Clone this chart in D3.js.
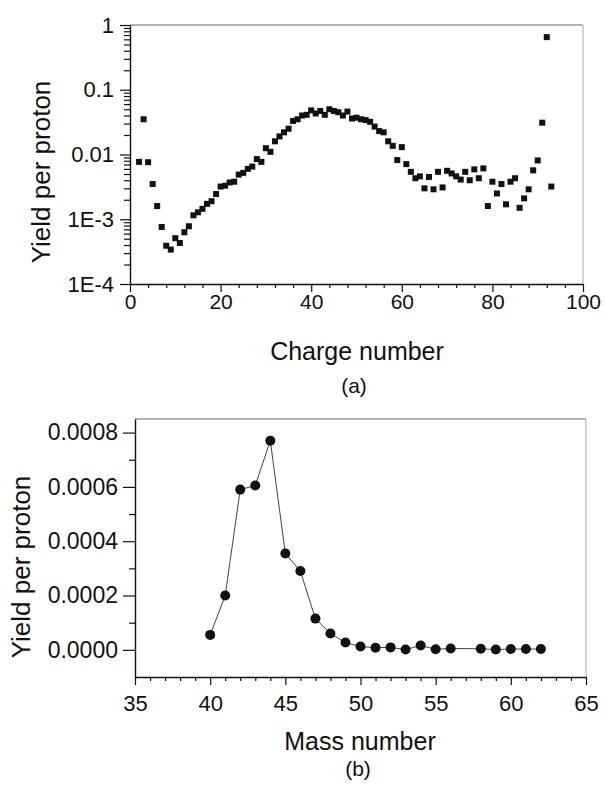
<!DOCTYPE html>
<html>
<head>
<meta charset="utf-8">
<script src="https://cdn.jsdelivr.net/npm/d3@7"></script>
<style>
  body { margin: 0; background: #fff; }
  text { font-family: "Liberation Sans", Arial, sans-serif; fill: #111; }
</style>
</head>
<body>
<script>
// (a) yield per proton vs charge number (log scale)
var chargeNumbers = [2, 3, 4, 5, 6, 7, 8, 9, 10, 11, 12, 13, 14, 15, 16, 17, 18, 19, 20,
  21, 22, 23, 24, 25, 26, 27, 28, 29, 30, 31, 32, 33, 34, 35, 36, 37, 38, 39, 40,
  41, 42, 43, 44, 45, 46, 47, 48, 49, 50, 51, 52, 53, 54, 55, 56, 57, 58, 59, 60,
  61, 62, 63, 64, 65, 66, 67, 68, 69, 70, 71, 72, 73, 74, 75, 76, 77, 78, 79, 80,
  81, 82, 83, 84, 85, 86, 87, 88, 89, 90, 91, 92, 93];
var chargeYields = [0.0077, 0.035, 0.0076, 0.0035, 0.0016, 0.00076, 0.00039, 0.00034, 0.00051,
  0.00043, 0.00063, 0.00078, 0.00115, 0.00128, 0.00145, 0.00173, 0.0019, 0.00245, 0.0032,
  0.0033, 0.0037, 0.0038, 0.0049, 0.0052, 0.0060, 0.0065, 0.0085, 0.0077, 0.0125,
  0.011, 0.016, 0.019, 0.022, 0.025, 0.033, 0.035, 0.040, 0.041, 0.048,
  0.043, 0.047, 0.041, 0.050, 0.047, 0.045, 0.040, 0.046, 0.036, 0.037,
  0.035, 0.034, 0.032, 0.027, 0.023, 0.022, 0.016, 0.0136, 0.0082, 0.013,
  0.0071, 0.0054, 0.0043, 0.0046, 0.0030, 0.0045, 0.0029, 0.0054, 0.0031, 0.0056,
  0.0051, 0.0046, 0.0041, 0.0054, 0.0040, 0.0059, 0.0043, 0.0061, 0.0016, 0.0038,
  0.0025, 0.0035, 0.0017, 0.0038, 0.0043, 0.0015, 0.0021, 0.0029, 0.0057, 0.0081,
  0.031, 0.65, 0.0032];
var chargeTicks = [0, 20, 40, 60, 80, 100];
var logTicks = [1e-4, 1e-3, 0.01, 0.1, 1];
var logTickLabels = ["1E-4", "1E-3", "0.01", "0.1", "1"];

// (b) yield per proton vs mass number
var massNumbers = [40, 41, 42, 43, 44, 45, 46, 47, 48, 49, 50, 51, 52, 53, 54, 55, 56, 58, 59, 60, 61, 62];
var massYields = [0.000055, 0.0002, 0.00059, 0.000605, 0.00077, 0.000355, 0.00029, 0.000115, 0.00006,
  0.000027, 0.000012, 0.000008, 0.000009, 0.000001, 0.000016, 0.000002, 0.000005,
  0.000004, 0.000001, 0.000003, 0.000003, 0.000003];
var massTicks = [35, 40, 45, 50, 55, 60, 65];
var linTicks = [0, 0.0002, 0.0004, 0.0006, 0.0008];

var W = 605, H = 788;
var svg = d3.select("body").append("svg")
            .attr("width", W)
            .attr("height", H);

// helper: style an axis group
function styleAxis(g, fontSize) {
  g.selectAll(".domain").attr("stroke", "#111").attr("stroke-width", 1.4);
  g.selectAll(".tick line").attr("stroke", "#111").attr("stroke-width", 1.2);
  g.selectAll(".tick text")
   .attr("font-family", "Liberation Sans, Arial, sans-serif")
   .attr("font-size", fontSize)
   .attr("fill", "#111");
}

// ---------- panel (a) ----------
var xa = d3.scaleLinear().domain([0, 100]).range([130, 583]);
var ya = d3.scaleLog().domain([1e-4, 1]).range([284, 25]);

// frame (top and right)
svg.append("line").attr("x1", xa(0)).attr("x2", xa(100)).attr("y1", ya(1)).attr("y2", ya(1))
   .attr("stroke", "#999").attr("stroke-width", 1.3);
svg.append("line").attr("x1", xa(100)).attr("x2", xa(100)).attr("y1", ya(1)).attr("y2", ya(1e-4))
   .attr("stroke", "#bbb").attr("stroke-width", 1.3);

var minorLog = [];
logTicks.slice(0, -1).forEach(function(d) {
  for (var k = 2; k <= 9; k++) minorLog.push(d * k);
});
var minorCharge = d3.range(0, 101, 4).filter(function(d) { return d % 20 != 0; });

svg.append("g")
   .attr("transform", "translate(" + xa(0) + ",0)")
   .call(d3.axisLeft(ya).tickValues(minorLog).tickFormat("").tickSize(6).tickSizeOuter(0))
   .call(function(g) { styleAxis(g, 22); g.select(".domain").remove(); });
svg.append("g")
   .attr("transform", "translate(" + xa(0) + ",0)")
   .call(d3.axisLeft(ya).tickValues(logTicks)
           .tickFormat(function(d, i) { return logTickLabels[i]; })
           .tickSize(10).tickPadding(6).tickSizeOuter(0))
   .call(function(g) { styleAxis(g, 22); });

svg.append("g")
   .attr("transform", "translate(0," + ya(1e-4) + ")")
   .call(d3.axisBottom(xa).tickValues(minorCharge).tickFormat("").tickSize(4).tickSizeOuter(0))
   .call(function(g) { styleAxis(g, 21); g.select(".domain").remove(); });
svg.append("g")
   .attr("transform", "translate(0," + ya(1e-4) + ")")
   .call(d3.axisBottom(xa).tickValues(chargeTicks).tickSize(8).tickPadding(2).tickSizeOuter(0))
   .call(function(g) { styleAxis(g, 21); });

// squares
var sq = 6;
svg.append("g")
   .selectAll("rect")
   .data(chargeNumbers)
   .enter()
   .append("rect")
   .attr("x", function(d) { return xa(d) - sq / 2; })
   .attr("y", function(d, i) { return ya(chargeYields[i]) - sq / 2; })
   .attr("width", sq)
   .attr("height", sq)
   .attr("fill", "#111");

svg.append("text")
   .attr("transform", "translate(50,172) rotate(-90)")
   .attr("text-anchor", "middle")
   .attr("font-size", 26)
   .text("Yield per proton");
svg.append("text")
   .attr("x", 357).attr("y", 360)
   .attr("text-anchor", "middle")
   .attr("font-size", 25)
   .text("Charge number");
svg.append("text")
   .attr("x", 354).attr("y", 393)
   .attr("text-anchor", "middle")
   .attr("font-size", 21)
   .text("(a)");

// ---------- panel (b) ----------
var xb = d3.scaleLinear().domain([35, 65]).range([135, 586]);
var yb = d3.scaleLinear().domain([-0.0001, 0.00085]).range([677, 419]);

svg.append("line").attr("x1", xb(35)).attr("x2", xb(65)).attr("y1", yb(0.00085)).attr("y2", yb(0.00085))
   .attr("stroke", "#999").attr("stroke-width", 1.3);
svg.append("line").attr("x1", xb(65)).attr("x2", xb(65)).attr("y1", yb(0.00085)).attr("y2", yb(-0.0001))
   .attr("stroke", "#bbb").attr("stroke-width", 1.3);

var minorLin = [0.0001, 0.0003, 0.0005, 0.0007];
var minorMass = d3.range(36, 65).filter(function(d) { return d % 5 != 0; });

svg.append("g")
   .attr("transform", "translate(" + xb(35) + ",0)")
   .call(d3.axisLeft(yb).tickValues(minorLin).tickFormat("").tickSize(6).tickSizeOuter(0))
   .call(function(g) { styleAxis(g, 23); g.select(".domain").remove(); });
svg.append("g")
   .attr("transform", "translate(" + xb(35) + ",0)")
   .call(d3.axisLeft(yb).tickValues(linTicks).tickFormat(d3.format(".4f"))
           .tickSize(12).tickPadding(5).tickSizeOuter(0))
   .call(function(g) { styleAxis(g, 23); });

svg.append("g")
   .attr("transform", "translate(0," + yb(-0.0001) + ")")
   .call(d3.axisBottom(xb).tickValues(minorMass).tickFormat("").tickSize(4).tickSizeOuter(0))
   .call(function(g) { styleAxis(g, 22); g.select(".domain").remove(); });
svg.append("g")
   .attr("transform", "translate(0," + yb(-0.0001) + ")")
   .call(d3.axisBottom(xb).tickValues(massTicks).tickSize(8).tickPadding(10).tickSizeOuter(0))
   .call(function(g) { styleAxis(g, 22); });

// connecting line
var massLine = d3.line()
    .x(function(d) { return xb(d); })
    .y(function(d, i) { return yb(massYields[i]); });
svg.append("path")
   .datum(massNumbers)
   .attr("d", massLine)
   .attr("fill", "none")
   .attr("stroke", "#444")
   .attr("stroke-width", 1);

svg.append("g")
   .selectAll("circle")
   .data(massNumbers)
   .enter()
   .append("circle")
   .attr("cx", function(d) { return xb(d); })
   .attr("cy", function(d, i) { return yb(massYields[i]); })
   .attr("r", 5)
   .attr("fill", "#111");

svg.append("text")
   .attr("transform", "translate(30,567) rotate(-90)")
   .attr("text-anchor", "middle")
   .attr("font-size", 26)
   .text("Yield per proton");
svg.append("text")
   .attr("x", 360).attr("y", 750)
   .attr("text-anchor", "middle")
   .attr("font-size", 25)
   .text("Mass number");
svg.append("text")
   .attr("x", 358).attr("y", 776)
   .attr("text-anchor", "middle")
   .attr("font-size", 21)
   .text("(b)");
</script>
</body>
</html>
